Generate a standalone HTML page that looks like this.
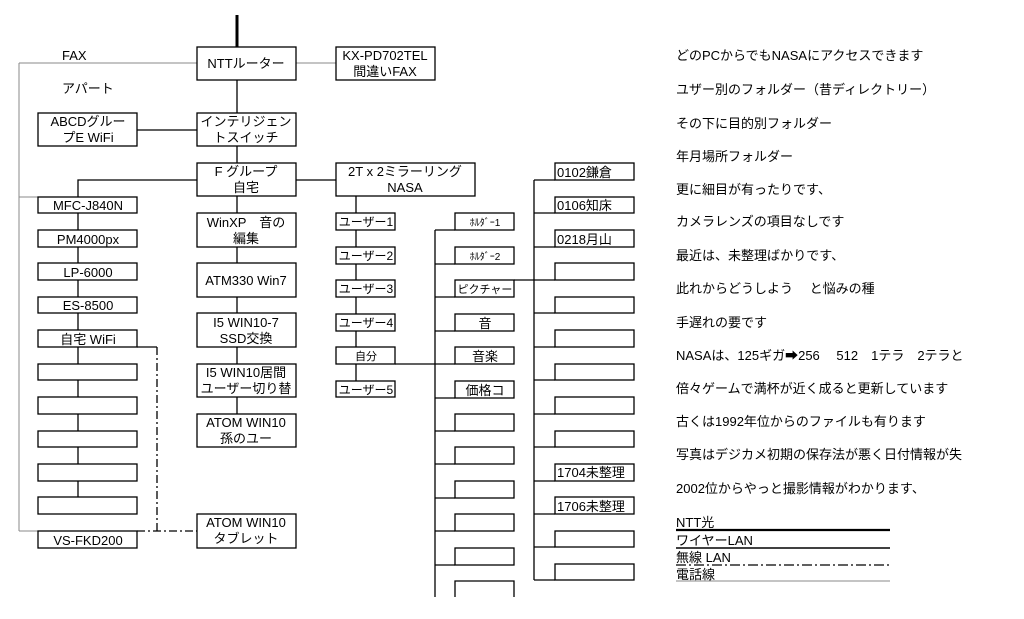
<!DOCTYPE html>
<html><head><meta charset="utf-8"><style>
html,body{margin:0;padding:0;background:#fff;width:1024px;height:619px;overflow:hidden}
svg text{font-family:"Liberation Sans","Noto Sans CJK JP",sans-serif;fill:#000}
</style></head><body>
<svg width="1024" height="619" viewBox="0 0 1024 619" xmlns="http://www.w3.org/2000/svg">
<g stroke="#000" fill="none" stroke-width="1.3">
<!-- top thick -->
<line x1="237" y1="15" x2="237" y2="47" stroke-width="3"/>
<!-- gray phone lines -->
<g stroke="#888" stroke-width="1">
<line x1="19" y1="63" x2="197" y2="63"/>
<line x1="296" y1="63" x2="336" y2="63"/>
<line x1="19" y1="63" x2="19" y2="531"/>
<line x1="19" y1="197" x2="38" y2="197"/>
<line x1="19" y1="531" x2="38" y2="531"/>
</g>
<!-- main verticals -->
<line x1="237" y1="80" x2="237" y2="113"/>
<line x1="137" y1="130" x2="197" y2="130"/>
<line x1="237" y1="146" x2="237" y2="163"/>
<line x1="296" y1="180" x2="336" y2="180"/>
<polyline points="197,180 78,180 78,197"/>
<line x1="78" y1="213" x2="78" y2="497"/>
<line x1="237" y1="196" x2="237" y2="447"/>
<line x1="356" y1="196" x2="356" y2="381"/>
<line x1="395" y1="364" x2="455" y2="364"/>
<line x1="435" y1="230" x2="435" y2="597"/>
<line x1="534" y1="180" x2="534" y2="580"/>
<line x1="514" y1="280" x2="555" y2="280"/>
<!-- dashed wifi -->
<polyline points="137,347 157,347" />
<line x1="157" y1="347" x2="157" y2="531" stroke-dasharray="8,3,2,3"/>
<line x1="137" y1="531" x2="197" y2="531" stroke-dasharray="8,3,2,3"/>
<!-- boxes -->
<g fill="#fff">
<rect x="197" y="47" width="99" height="33"/>
<rect x="336" y="47" width="99" height="33"/>
<rect x="38" y="113" width="99" height="33"/>
<rect x="197" y="113" width="99" height="33"/>
<rect x="197" y="163" width="99" height="33"/>
<rect x="336" y="163" width="139" height="33"/>
<rect x="38" y="197" width="99" height="16"/>
<rect x="38" y="230" width="99" height="17"/>
<rect x="38" y="263" width="99" height="17"/>
<rect x="38" y="297" width="99" height="16"/>
<rect x="38" y="330" width="99" height="17"/>
<rect x="38" y="364" width="99" height="16"/>
<rect x="38" y="397" width="99" height="17"/>
<rect x="38" y="431" width="99" height="16"/>
<rect x="38" y="464" width="99" height="17"/>
<rect x="38" y="497" width="99" height="17"/>
<rect x="38" y="531" width="99" height="17"/>
<rect x="197" y="213" width="99" height="34"/>
<rect x="197" y="263" width="99" height="34"/>
<rect x="197" y="313" width="99" height="34"/>
<rect x="197" y="364" width="99" height="33"/>
<rect x="197" y="414" width="99" height="33"/>
<rect x="197" y="514" width="99" height="34"/>
<rect x="336" y="213" width="59" height="17"/>
<rect x="336" y="247" width="59" height="17"/>
<rect x="336" y="280" width="59" height="17"/>
<rect x="336" y="314" width="59" height="17"/>
<rect x="336" y="347" width="59" height="17"/>
<rect x="336" y="381" width="59" height="16"/>
</g>
<!-- folder column -->
<g fill="#fff">
<path d="M435 230H455M435 264H455M435 297H455M435 331H455M435 398H455M435 431H455M435 464H455M435 498H455M435 531H455M435 565H455"/>
<rect x="455" y="213" width="59" height="17"/>
<rect x="455" y="247" width="59" height="17"/>
<rect x="455" y="280" width="59" height="17"/>
<rect x="455" y="314" width="59" height="17"/>
<rect x="455" y="347" width="59" height="17"/>
<rect x="455" y="381" width="59" height="17"/>
<rect x="455" y="414" width="59" height="17"/>
<rect x="455" y="447" width="59" height="17"/>
<rect x="455" y="481" width="59" height="17"/>
<rect x="455" y="514" width="59" height="17"/>
<rect x="455" y="548" width="59" height="17"/>
<path d="M455 597V581H514V597"/>
<path d="M534 180H555M534 213H555M534 247H555M534 313H555M534 347H555M534 380H555M534 414H555M534 447H555M534 481H555M534 514H555M534 547H555M534 580H555"/>
<rect x="555" y="163" width="79" height="17"/>
<rect x="555" y="197" width="79" height="16"/>
<rect x="555" y="230" width="79" height="17"/>
<rect x="555" y="263" width="79" height="17"/>
<rect x="555" y="297" width="79" height="16"/>
<rect x="555" y="330" width="79" height="17"/>
<rect x="555" y="364" width="79" height="16"/>
<rect x="555" y="397" width="79" height="17"/>
<rect x="555" y="431" width="79" height="16"/>
<rect x="555" y="464" width="79" height="17"/>
<rect x="555" y="497" width="79" height="17"/>
<rect x="555" y="531" width="79" height="16"/>
<rect x="555" y="564" width="79" height="16"/>
</g>
<!-- legend -->
<line x1="676" y1="530" x2="890" y2="530" stroke-width="2.2"/>
<line x1="676" y1="548" x2="890" y2="548" stroke-width="1.5"/>
<line x1="676" y1="565" x2="890" y2="565" stroke-dasharray="10,3,2,3"/>
<line x1="676" y1="581" x2="890" y2="581" stroke="#888" stroke-width="1"/>
</g>
<g font-size="13" text-anchor="middle">
<text x="246" y="68">NTTルーター</text>
<text x="385" y="60">KX-PD702TEL</text><text x="385" y="76">間違いFAX</text>
<text x="88" y="126">ABCDグルー</text><text x="88" y="142">プE WiFi</text>
<text x="246" y="126">インテリジェン</text><text x="246" y="142">トスイッチ</text>
<text x="246" y="176">F グループ</text><text x="246" y="192">自宅</text>
<text x="405" y="176">2T x 2ミラーリング</text><text x="405" y="192">NASA</text>
<text x="88" y="210">MFC-J840N</text>
<text x="88" y="244">PM4000px</text>
<text x="88" y="277">LP-6000</text>
<text x="88" y="310">ES-8500</text>
<text x="88" y="344">自宅 WiFi</text>
<text x="88" y="545">VS-FKD200</text>
<text x="246" y="227">WinXP　音の</text><text x="246" y="243">編集</text>
<text x="246" y="285">ATM330 Win7</text>
<text x="246" y="327">I5 WIN10-7</text><text x="246" y="343">SSD交換</text>
<text x="246" y="377">I5 WIN10居間</text><text x="246" y="393">ユーザー切り替</text>
<text x="246" y="427">ATOM WIN10</text><text x="246" y="443">孫のユー</text>
<text x="246" y="527">ATOM WIN10</text><text x="246" y="543">タブレット</text>
<g font-size="12">
<text x="366" y="226">ユーザー1</text>
<text x="366" y="260">ユーザー2</text>
<text x="366" y="293">ユーザー3</text>
<text x="366" y="327">ユーザー4</text>
<text x="366" y="360" font-size="11">自分</text>
<text x="366" y="394">ユーザー5</text>
<text x="485" y="226" font-size="10">ﾎﾙﾀﾞｰ1</text>
<text x="485" y="260" font-size="10">ﾎﾙﾀﾞｰ2</text>
<text x="485" y="293" font-size="11">ピクチャー</text>
<text x="485" y="328" font-size="13">音</text>
<text x="485" y="361" font-size="13">音楽</text>
<text x="485" y="395" font-size="13">価格コ</text>
</g>
</g>
<g font-size="13">
<text x="62" y="60">FAX</text>
<text x="62" y="93">アパート</text>
<text x="557" y="177">0102鎌倉</text>
<text x="557" y="210">0106知床</text>
<text x="557" y="244">0218月山</text>
<text x="557" y="477">1704未整理</text>
<text x="557" y="511">1706未整理</text>
<text x="676" y="60">どのPCからでもNASAにアクセスできます</text>
<text x="676" y="94">ユザー別のフォルダー（昔ディレクトリー）</text>
<text x="676" y="128">その下に目的別フォルダー</text>
<text x="676" y="161">年月場所フォルダー</text>
<text x="676" y="194">更に細目が有ったりです、</text>
<text x="676" y="226">カメラレンズの項目なしです</text>
<text x="676" y="260">最近は、未整理ばかりです、</text>
<text x="676" y="293">此れからどうしよう　 と悩みの種</text>
<text x="676" y="327">手遅れの要です</text>
<text x="676" y="360">NASAは、125ギガ➡256　 512　1テラ　2テラと</text>
<text x="676" y="393">倍々ゲームで満杯が近く成ると更新しています</text>
<text x="676" y="426">古くは1992年位からのファイルも有ります</text>
<text x="676" y="459">写真はデジカメ初期の保存法が悪く日付情報が失</text>
<text x="676" y="493">2002位からやっと撮影情報がわかります、</text>
<text x="676" y="527">NTT光</text>
<text x="676" y="545">ワイヤーLAN</text>
<text x="676" y="562">無線 LAN</text>
<text x="676" y="579">電話線</text>
</g>
</svg>
</body></html>
